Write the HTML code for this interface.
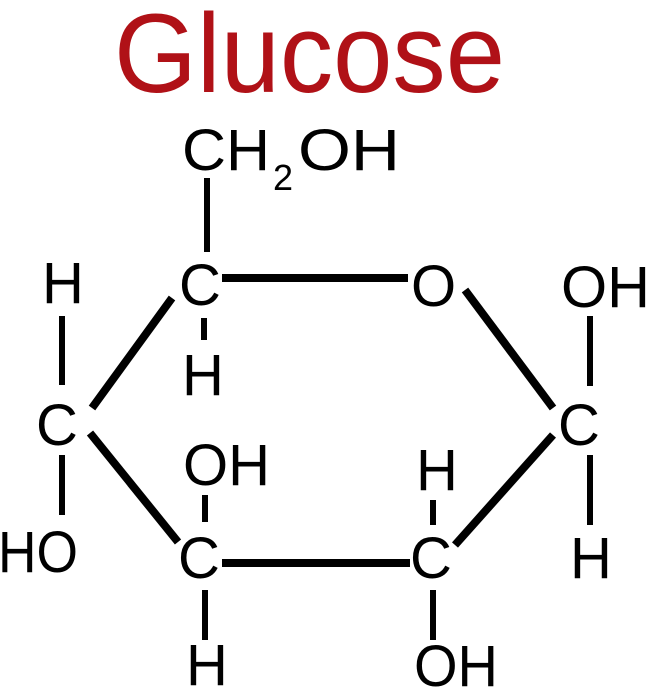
<!DOCTYPE html>
<html><head><meta charset="utf-8"><style>
html,body{margin:0;padding:0;background:#fff;width:655px;height:696px;overflow:hidden}
svg{display:block}
text{font-family:"Liberation Sans",sans-serif;fill:#000}
</style></head><body>
<svg width="655" height="696" viewBox="0 0 655 696" xmlns="http://www.w3.org/2000/svg">
<text x="114" y="92" font-size="112" style="fill:#b01117" textLength="391" lengthAdjust="spacingAndGlyphs">Glucose</text>
<g font-size="58">
<text x="182" y="170" textLength="88" lengthAdjust="spacingAndGlyphs">CH</text>
<text x="273" y="190" font-size="36">2</text>
<text x="298" y="170" textLength="102" lengthAdjust="spacingAndGlyphs">OH</text>
<text x="179" y="305">C</text>
<text x="411" y="306">O</text>
<text x="42" y="303">H</text>
<text x="182" y="395">H</text>
<text x="36" y="445">C</text>
<text x="-2" y="572" textLength="80" lengthAdjust="spacingAndGlyphs">HO</text>
<text x="183" y="485" textLength="87" lengthAdjust="spacingAndGlyphs">OH</text>
<text x="178" y="578">C</text>
<text x="186" y="685">H</text>
<text x="410" y="578">C</text>
<text x="416" y="490">H</text>
<text x="414" y="686" textLength="84" lengthAdjust="spacingAndGlyphs">OH</text>
<text x="558" y="445">C</text>
<text x="561" y="307" textLength="89" lengthAdjust="spacingAndGlyphs">OH</text>
<text x="570" y="578">H</text>
</g>
<g stroke="#000" stroke-width="6" fill="none">
<line x1="207" y1="178" x2="207" y2="252"/>
<line x1="62" y1="316" x2="62" y2="385"/>
<line x1="204" y1="318" x2="204" y2="340"/>
<line x1="62" y1="455" x2="62" y2="515"/>
<line x1="205" y1="495" x2="205" y2="522"/>
<line x1="205" y1="590" x2="205" y2="640"/>
<line x1="433" y1="500" x2="433" y2="525"/>
<line x1="433" y1="590" x2="433" y2="640"/>
<line x1="590" y1="316" x2="590" y2="386"/>
<line x1="590" y1="455" x2="590" y2="525"/>
</g>
<g stroke="#000" stroke-width="8" fill="none">
<line x1="222" y1="278" x2="408" y2="278"/>
<line x1="172" y1="298" x2="92" y2="408"/>
<line x1="90" y1="433" x2="178" y2="542"/>
<line x1="222" y1="563" x2="410" y2="563"/>
<line x1="455" y1="545" x2="553" y2="435"/>
<line x1="465" y1="290" x2="553" y2="408"/>
</g>
</svg>
</body></html>
